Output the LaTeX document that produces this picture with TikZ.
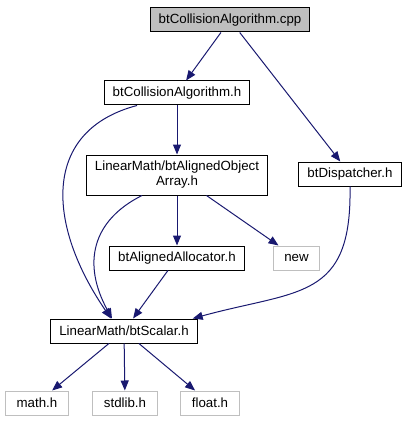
\documentclass[tikz,border=0pt]{standalone}
\usepackage{fontspec}
\setmainfont{Liberation Sans}
\usetikzlibrary{positioning,arrows.meta}
\definecolor{edgeblue}{HTML}{191970}
\definecolor{sysgray}{HTML}{BFBFBF}
\tikzset{
  hdr/.style={draw=black,line width=1pt,minimum height=24pt,inner xsep=8.5pt,
            inner ysep=2pt,align=center,font=\fontsize{13.3}{15}\selectfont,fill=white},
  srcfile/.style={hdr,fill=sysgray},
  syshdr/.style={hdr,draw=sysgray,inner xsep=11pt},
  inc/.style={-{Triangle[length=10pt,width=8pt]},line width=1pt,edgeblue},
}
\begin{document}
\begin{tikzpicture}[x=1pt,y=-1pt]
  \useasboundingbox (0,0) rectangle (410,425);
  \node[srcfile] (cpp) at (230,20) {btCollisionAlgorithm.cpp};
  \node[hdr] (btca) at (177,93) {btCollisionAlgorithm.h};
  \node[hdr,minimum height=40pt,below=49pt of btca] (aoa)
       {LinearMath/btAlignedObject\\Array.h};
  \node[hdr,below=50pt of aoa] (alloc) {btAlignedAllocator.h};
  \node[syshdr,right=28pt of alloc] (new) {new};
  \node[hdr] (disp) at (350,174) {btDispatcher.h};
  \node[hdr] (scalar) at (124,331) {LinearMath/btScalar.h};
  \node[syshdr] (mathh) at (37,403) {math.h};
  \node[syshdr] (stdlib) at (125,403) {stdlib.h};
  \node[syshdr] (floath) at (210,403) {float.h};
  \draw[inc] (cpp) -- (btca);
  \draw[inc] (cpp) -- (disp);
  \draw[inc] (btca) -- (aoa);
  \draw[inc] ([xshift=-40pt]btca.south) .. controls +(-95,25) and +(-65,-95)
       .. ([xshift=-13pt]scalar.north);
  \draw[inc] ([xshift=-35pt]aoa.south) .. controls +(-50,25) and +(-30,-55)
       .. ([xshift=-12pt]scalar.north);
  \draw[inc] (aoa) -- (alloc);
  \draw[inc] (aoa) -- (new);
  \draw[inc] (disp.south) .. controls +(2,114) and +(106,-29)
       .. ([xshift=-5pt]scalar.north east);
  \draw[inc] (alloc) -- (scalar);
  \draw[inc] (scalar) -- (mathh);
  \draw[inc] (scalar) -- (stdlib);
  \draw[inc] (scalar) -- (floath);
\end{tikzpicture}
\end{document}
